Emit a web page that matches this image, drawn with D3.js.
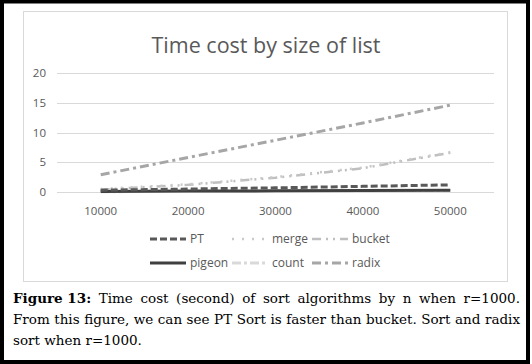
<!DOCTYPE html>
<html>
<head>
<meta charset="utf-8">
<script src="https://cdn.jsdelivr.net/npm/d3@7"></script>
<style>
  body { margin: 0; background: #fff; }
  svg { display: block; }
</style>
</head>
<body>
<svg width="532" height="364"></svg>
<script>
var sizes = ["10000", "20000", "30000", "40000", "50000"];
var ptVals = [0.3, 0.5, 0.7, 0.95, 1.2];
var mergeVals = [0.5, 1.3, 2.5, 4.1, 6.7];
var bucketVals = [0.4, 1.2, 2.4, 4.0, 6.6];
var pigeonVals = [0.1, 0.15, 0.2, 0.25, 0.3];
var countVals = [0.05, 0.1, 0.15, 0.2, 0.25];
var radixVals = [2.9, 5.8, 8.7, 11.6, 14.6];
var yTicks = [0, 5, 10, 15, 20];

var captionLines = [
  ["Figure 13:", "Time cost (second) of sort algorithms by n when r=1000."],
  ["", "From this figure, we can see PT Sort is faster than bucket. Sort and radix"],
  ["", "sort when r=1000."]
];

var series = [
  {name: "PT", vals: ptVals, color: "#595959", width: 3, dash: "7,3"},
  {name: "merge", vals: mergeVals, color: "#c9c9c9", width: 2.5, dash: "2,8"},
  {name: "bucket", vals: bucketVals, color: "#bfbfbf", width: 2.5, dash: "9,5,2,5,2,5"},
  {name: "pigeon", vals: pigeonVals, color: "#404040", width: 3, dash: null},
  {name: "count", vals: countVals, color: "#d9d9d9", width: 3, dash: "9,3,3,3"},
  {name: "radix", vals: radixVals, color: "#a6a6a6", width: 3, dash: "9,4,3,4"}
];

var svg = d3.select("svg");

// black frame
svg.append("rect").attr("x", 2).attr("y", 1.5).attr("width", 526).attr("height", 360.5)
  .attr("fill", "#fff").attr("stroke", "#000").attr("stroke-width", 4);

// chart box
svg.append("rect").attr("x", 23.5).attr("y", 11.5).attr("width", 484).attr("height", 270)
  .attr("fill", "#fff").attr("stroke", "#d9d9d9").attr("stroke-width", 1);

svg.append("text").attr("x", 266).attr("y", 53).attr("text-anchor", "middle")
  .attr("font-family", "Open Sans").attr("font-size", 21.5).attr("fill", "#595959")
  .text("Time cost by size of list");

var x = d3.scalePoint().domain(sizes).range([57, 494]).padding(0.5);
var y = d3.scaleLinear().domain([0, 20]).range([192, 73]);

var g = svg.append("g");

g.selectAll(".grid").data(yTicks).enter().append("line")
  .attr("x1", 57).attr("x2", 494)
  .attr("y1", function(d) { return Math.round(y(d)) + 0.5; })
  .attr("y2", function(d) { return Math.round(y(d)) + 0.5; })
  .attr("stroke", "#d9d9d9").attr("stroke-width", 1);

g.selectAll(".ylab").data(yTicks).enter().append("text")
  .attr("x", 46).attr("y", function(d) { return y(d) + 4; })
  .attr("text-anchor", "end").attr("font-family", "Open Sans").attr("font-size", 11.5)
  .attr("fill", "#595959").text(function(d) { return d; });

g.selectAll(".xlab").data(sizes).enter().append("text")
  .attr("x", function(d) { return x(d); }).attr("y", 215)
  .attr("text-anchor", "middle").attr("font-family", "Open Sans").attr("font-size", 11.5)
  .attr("fill", "#595959").text(function(d) { return d; });

var line = d3.line()
  .x(function(d, i) { return x(sizes[i]); })
  .y(function(d) { return y(d); });

// light ones first, dark on top
var order = ["count", "bucket", "merge", "radix", "pigeon", "PT"];
order.forEach(function(nm) {
  var s = series.find(function(t) { return t.name === nm; });
  g.append("path").datum(s.vals).attr("d", line)
    .attr("fill", "none").attr("stroke", s.color).attr("stroke-width", s.width)
    .attr("stroke-dasharray", s.dash);
});

// legend
var legX = [150, 232, 312];
var legY = [239, 263];
series.forEach(function(s, i) {
  var col = i % 3, row = Math.floor(i / 3);
  var lx = legX[col], ly = legY[row];
  svg.append("line").attr("x1", lx).attr("x2", lx + 36).attr("y1", ly).attr("y2", ly)
    .attr("stroke", s.color).attr("stroke-width", s.width).attr("stroke-dasharray", s.dash);
  svg.append("text").attr("x", lx + 40).attr("y", ly + 4)
    .attr("font-family", "Open Sans").attr("font-size", 12).attr("fill", "#595959")
    .text(s.name);
});

// caption, first two lines justified
var capLeft = 13, capRight = 520, capY = [303, 324, 345];
var capFont = "DejaVu Serif", capSize = 13.5;
captionLines.forEach(function(ln, li) {
  if (li === 2) {
    svg.append("text").attr("x", capLeft).attr("y", capY[li])
      .attr("font-family", capFont).attr("font-size", capSize).attr("fill", "#000")
      .text(ln[1]);
    return;
  }
  var words = [];
  if (ln[0]) words.push({t: ln[0], bold: true});
  ln[1].split(" ").forEach(function(w) { words.push({t: w, bold: false}); });
  var nodes = words.map(function(w) {
    return svg.append("text").attr("y", capY[li])
      .attr("font-family", capFont).attr("font-size", capSize)
      .attr("font-weight", w.bold ? "bold" : "normal").attr("fill", "#000").text(w.t);
  });
  var widths = nodes.map(function(n) { return n.node().getComputedTextLength(); });
  var gap = (capRight - capLeft - d3.sum(widths)) / (nodes.length - 1);
  var cx = capLeft;
  nodes.forEach(function(n, k) { n.attr("x", cx); cx += widths[k] + gap; });
});
</script>
</body>
</html>
